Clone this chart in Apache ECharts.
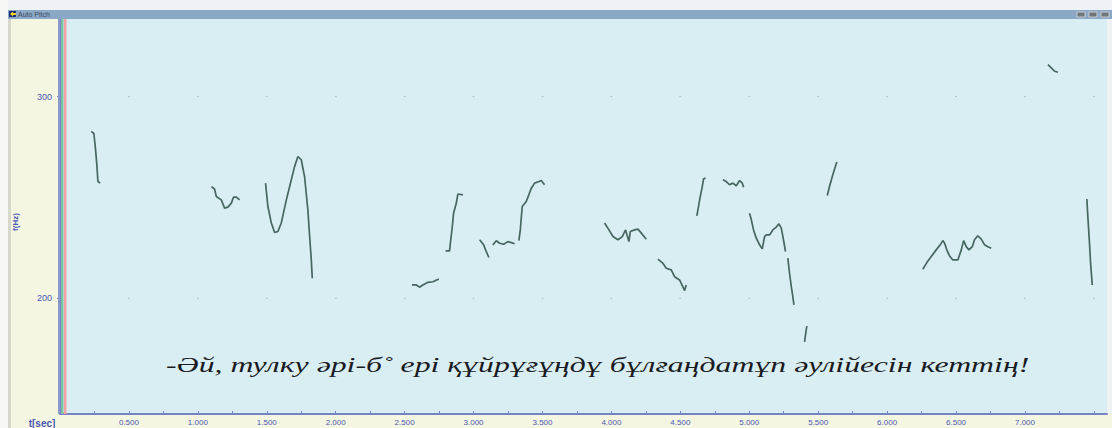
<!DOCTYPE html>
<html>
<head>
<meta charset="utf-8">
<script src="https://cdn.jsdelivr.net/npm/echarts@6/dist/echarts.min.js"></script>
<style>
  html, body { margin: 0; padding: 0; background: #f4f6e2; }
  #chart { width: 1112px; height: 428px; }
</style>
</head>
<body>
<div id="chart"></div>
<script>
// Pitch contour segments: [time (s), F0 (Hz)]
const pitch01 = [[0.227,282.8],[0.246,281.6],[0.258,273.7],[0.268,265.4],[0.275,257.9],[0.292,257.1]];
const pitch02 = [[1.098,255.4],[1.121,254.2],[1.134,250.5],[1.170,248.8],[1.194,244.7],[1.218,245.2],[1.243,247.2],[1.259,250.2],[1.279,250.2],[1.303,248.8]];
const pitch03 = [[1.491,257.1],[1.508,245.5],[1.533,237.3],[1.557,232.6],[1.581,233.1],[1.605,237.3],[1.642,248.8],[1.678,258.8],[1.702,265.4],[1.726,270.3],[1.750,268.7],[1.774,260.4],[1.798,243.9],[1.811,230.6],[1.823,219.0],[1.830,209.9]];
const pitch04 = [[2.553,206.6],[2.585,206.6],[2.608,205.5],[2.632,206.6],[2.669,207.9],[2.705,208.2],[2.748,209.6]];
const pitch05 = [[2.797,223.5],[2.826,223.5],[2.833,228.1],[2.846,235.6],[2.855,242.2],[2.875,247.2],[2.886,251.7],[2.923,251.3]];
const pitch06 = [[3.044,229.0],[3.073,226.5],[3.092,223.2],[3.111,220.2]];
const pitch07 = [[3.140,226.5],[3.165,228.5],[3.189,227.3],[3.218,226.8],[3.249,228.1],[3.274,227.6],[3.298,227.0]];
const pitch08 = [[3.329,228.6],[3.339,233.9],[3.353,245.5],[3.382,248.0],[3.401,251.3],[3.419,254.6],[3.443,257.1],[3.474,257.9],[3.491,258.4],[3.515,256.3]];
const pitch09 = [[3.950,237.3],[3.982,233.9],[4.011,230.6],[4.047,229.0],[4.079,230.6],[4.103,233.9],[4.127,228.1],[4.137,233.1],[4.168,233.9],[4.192,234.3],[4.217,232.3],[4.253,229.3]];
const pitch10 = [[4.337,219.4],[4.373,217.4],[4.398,214.9],[4.434,214.1],[4.458,210.7],[4.494,209.1],[4.518,205.8],[4.531,203.8],[4.543,206.6]];
const pitch11 = [[4.620,240.9],[4.640,248.8],[4.659,255.4],[4.669,259.3],[4.683,259.6]];
const pitch12 = [[4.809,258.8],[4.833,257.9],[4.857,256.3],[4.881,257.1],[4.906,255.8],[4.930,258.4],[4.949,257.1],[4.959,255.1]];
const pitch13 = [[5.002,242.2],[5.015,238.9],[5.031,233.9],[5.051,229.8],[5.075,226.5],[5.094,224.5],[5.111,230.6],[5.123,231.4],[5.147,231.4],[5.171,233.9],[5.196,235.3],[5.215,236.9],[5.232,234.8],[5.244,230.6],[5.263,223.2]];
const pitch14 = [[5.280,219.9],[5.292,212.4],[5.305,205.8],[5.316,200.8],[5.324,196.7]];
const pitch15 = [[5.401,178.4],[5.413,184.3],[5.418,186.2]];
const pitch16 = [[5.566,251.0],[5.582,255.4],[5.606,261.3],[5.635,267.6]];
const pitch17 = [[6.259,214.4],[6.288,217.7],[6.320,220.7],[6.356,224.0],[6.385,226.5],[6.404,228.6],[6.417,227.3],[6.433,224.0],[6.453,221.0],[6.477,219.0],[6.513,219.0],[6.538,224.0],[6.555,228.6],[6.574,225.6],[6.593,224.0],[6.618,225.6],[6.634,229.0],[6.658,231.0],[6.683,229.3],[6.707,226.5],[6.731,225.6],[6.755,224.8]];
const pitch18 = [[7.166,315.9],[7.191,314.3],[7.215,312.6],[7.239,312.1]];
const pitch19 = [[7.449,249.2],[7.456,240.5],[7.468,227.3],[7.476,217.4],[7.488,206.6]];

const contours = [pitch01, pitch02, pitch03, pitch04, pitch05, pitch06, pitch07, pitch08, pitch09, pitch10,
                  pitch11, pitch12, pitch13, pitch14, pitch15, pitch16, pitch17, pitch18, pitch19];

// Axis ticks and labels
const timeLabels = [0.5, 1.0, 1.5, 2.0, 2.5, 3.0, 3.5, 4.0, 4.5, 5.0, 5.5, 6.0, 6.5, 7.0];
const timeTicks = [0.25, 0.5, 0.75, 1.0, 1.25, 1.5, 1.75, 2.0, 2.25, 2.5, 2.75, 3.0, 3.25, 3.5, 3.75,
                   4.0, 4.25, 4.5, 4.75, 5.0, 5.25, 5.5, 5.75, 6.0, 6.25, 6.5, 6.75, 7.0, 7.25, 7.5];
const freqLabels = [200, 300];
const gridDotTimes = [0.5, 1.0, 1.5, 2.0, 2.5, 3.0, 3.5, 4.0, 4.5, 5.0, 5.5, 6.0, 6.5, 7.0, 7.5];

const phrase = '-Әй, тулку әрі-б˚ ері құйрұғұңдұ бұлғаңдатұп әулійесін кеттің!';
const windowTitle = 'Auto Pitch';

const axisBlue = '#4a56b4';
const lineBlue = '#7a82c6';

const dots = [];
freqLabels.forEach(f => gridDotTimes.forEach(t => dots.push([t, f])));

const series = contours.map(seg => ({
  type: 'line',
  data: seg,
  showSymbol: false,
  silent: true,
  z: 5,
  lineStyle: { color: '#46665f', width: 1.7 }
}));
series.push({
  type: 'scatter',
  data: dots,
  symbol: 'rect',
  symbolSize: [2, 1],
  silent: true,
  itemStyle: { color: '#9fb4b8' },
  z: 3
});

const chart = echarts.init(document.getElementById('chart'), null, { renderer: 'svg' });
chart.setOption({
  backgroundColor: '#f4f6e2',
  animation: false,
  grid: {
    left: 60, right: 5, top: 19, bottom: 14,
    show: true, backgroundColor: '#d9eef3', borderWidth: 0
  },
  xAxis: {
    type: 'value',
    min: 0, max: 7.595,
    axisLine: { show: true, lineStyle: { color: lineBlue, width: 2 } },
    axisTick: { show: true, inside: true, length: 3, customValues: timeTicks, lineStyle: { color: lineBlue } },
    axisLabel: {
      customValues: timeLabels,
      formatter: v => v.toFixed(3),
      color: axisBlue, fontSize: 8, margin: 4, fontFamily: 'Liberation Sans'
    },
    splitLine: { show: false }
  },
  yAxis: {
    type: 'value',
    min: 142.6, max: 338.5,
    offset: 5,
    axisLine: { show: true, lineStyle: { color: lineBlue, width: 2 } },
    axisTick: { show: true, length: 3, customValues: freqLabels, lineStyle: { color: lineBlue } },
    axisLabel: {
      customValues: freqLabels,
      color: axisBlue, fontSize: 9, margin: 3, fontFamily: 'Liberation Sans'
    },
    splitLine: { show: false }
  },
  series: series,
  graphic: [
    // window chrome
    { type: 'rect', shape: { x: 0, y: 0, width: 1112, height: 10 }, style: { fill: '#eef1f5' }, z: -10 },
    { type: 'rect', shape: { x: 0, y: 0, width: 8, height: 428 }, style: { fill: '#f7f8f6' }, z: -10 },
    { type: 'rect', shape: { x: 8, y: 10, width: 3, height: 418 }, style: { fill: '#d7d8cc' }, z: -10 },
    { type: 'rect', shape: { x: 1107, y: 10, width: 5, height: 404 }, style: { fill: '#eef2f4' }, z: -10 },
    { type: 'rect', shape: { x: 8, y: 10, width: 1104, height: 9 }, style: { fill: '#8ba8c7' }, z: 10 },
    { type: 'rect', shape: { x: 9, y: 11, width: 7, height: 6 }, style: { fill: '#1c2e78' }, z: 11 },
    { type: 'polygon', shape: { points: [[10, 14], [13, 11.5], [13, 16.5]] }, style: { fill: '#f2d21e' }, z: 12 },
    { type: 'rect', shape: { x: 13, y: 13, width: 3, height: 2 }, style: { fill: '#f2d21e' }, z: 12 },
    { type: 'text', x: 18, y: 14.5, style: { text: windowTitle, fill: '#3c4a5c', fontSize: 7, fontFamily: 'Liberation Sans', verticalAlign: 'middle' }, z: 11 },
    { type: 'rect', shape: { x: 1077, y: 12, width: 8, height: 5 }, style: { fill: '#6f7479', stroke: '#c8ccd2', lineWidth: 1 }, z: 11 },
    { type: 'rect', shape: { x: 1089, y: 12, width: 8, height: 5 }, style: { fill: '#6f7479', stroke: '#c8ccd2', lineWidth: 1 }, z: 11 },
    { type: 'rect', shape: { x: 1101, y: 12, width: 8, height: 5 }, style: { fill: '#6f7479', stroke: '#c8ccd2', lineWidth: 1 }, z: 11 },
    // cursor lines at the start of the time axis
    { type: 'rect', shape: { x: 58, y: 19, width: 2, height: 395 }, style: { fill: '#8d9ad0' }, z: 8 },
    { type: 'rect', shape: { x: 61, y: 19, width: 2.5, height: 395 }, style: { fill: '#7cc3a3' }, z: 8 },
    { type: 'rect', shape: { x: 64, y: 19, width: 2.5, height: 395 }, style: { fill: '#f3a3a3' }, z: 8 },
    // axis names
    { type: 'text', x: 15, y: 222, rotation: Math.PI / 2,
      style: { text: 'f(Hz)', fill: axisBlue, fontSize: 8, fontWeight: 'bold', fontFamily: 'Liberation Sans', align: 'center', verticalAlign: 'middle' }, z: 11 },
    { type: 'text', x: 42, y: 423,
      style: { text: 't[sec]', fill: axisBlue, fontSize: 10, fontWeight: 'bold', fontFamily: 'Liberation Sans', align: 'center', verticalAlign: 'middle' }, z: 11 },
    // spoken phrase
    { type: 'text', x: 166, y: 365, scaleX: 1.445,
      style: { text: phrase, fill: '#1a1a22', fontSize: 22, fontStyle: 'italic', fontFamily: 'Liberation Serif', verticalAlign: 'middle' }, z: 11 }
  ]
});
</script>
</body>
</html>
